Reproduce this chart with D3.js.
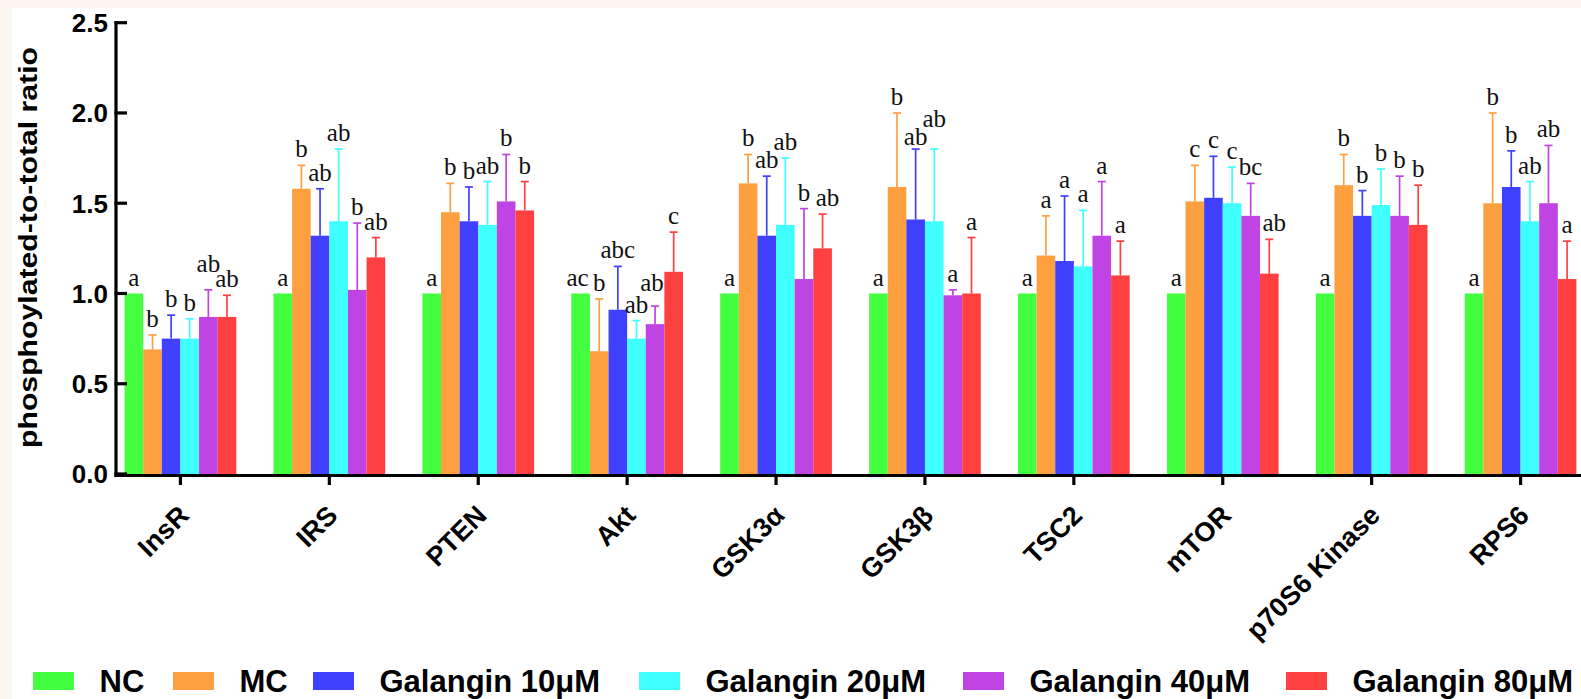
<!DOCTYPE html>
<html>
<head>
<meta charset="utf-8">
<script src="https://cdn.jsdelivr.net/npm/d3@7"></script>
<style>
  html, body { margin: 0; padding: 0; background: #fcf6f1; }
  svg { display: block; }
</style>
</head>
<body>
<svg id="chart" width="1581" height="699"></svg>
<script>
// Phosphorylation ratios per protein and treatment group
const categories = ["InsR", "IRS", "PTEN", "Akt", "GSK3α", "GSK3β", "TSC2", "mTOR", "p70S6 Kinase", "RPS6"];
const seriesNames = ["NC", "MC", "Galangin 10μM", "Galangin 20μM", "Galangin 40μM", "Galangin 80μM"];
const seriesColors = ["#44ff3f", "#ffa040", "#4040ff", "#40ffff", "#c044e4", "#ff4040"];

const valuesNC  = [1.00, 1.00, 1.00, 1.00, 1.00, 1.00, 1.00, 1.00, 1.00, 1.00];
const valuesMC  = [0.69, 1.58, 1.45, 0.68, 1.61, 1.59, 1.21, 1.51, 1.60, 1.50];
const valuesG10 = [0.75, 1.32, 1.40, 0.91, 1.32, 1.41, 1.18, 1.53, 1.43, 1.59];
const valuesG20 = [0.75, 1.40, 1.38, 0.75, 1.38, 1.40, 1.15, 1.50, 1.49, 1.40];
const valuesG40 = [0.87, 1.02, 1.51, 0.83, 1.08, 0.99, 1.32, 1.43, 1.43, 1.50];
const valuesG80 = [0.87, 1.20, 1.46, 1.12, 1.25, 1.00, 1.10, 1.11, 1.38, 1.08];

// upper error (SEM)
const errNC  = [0, 0, 0, 0, 0, 0, 0, 0, 0, 0];
const errMC  = [0.08, 0.13, 0.16, 0.29, 0.16, 0.41, 0.22, 0.20, 0.17, 0.50];
const errG10 = [0.13, 0.26, 0.19, 0.24, 0.33, 0.39, 0.36, 0.23, 0.14, 0.20];
const errG20 = [0.11, 0.40, 0.24, 0.10, 0.37, 0.40, 0.31, 0.20, 0.20, 0.22];
const errG40 = [0.15, 0.37, 0.26, 0.10, 0.39, 0.03, 0.30, 0.18, 0.22, 0.32];
const errG80 = [0.12, 0.11, 0.16, 0.22, 0.19, 0.31, 0.19, 0.19, 0.22, 0.21];

// significance letters
const lettersNC  = ["a", "a", "a", "ac", "a", "a", "a", "a", "a", "a"];
const lettersMC  = ["b", "b", "b", "b", "b", "b", "a", "c", "b", "b"];
const lettersG10 = ["b", "ab", "b", "abc", "ab", "ab", "a", "c", "b", "b"];
const lettersG20 = ["b", "ab", "ab", "ab", "ab", "ab", "a", "c", "b", "ab"];
const lettersG40 = ["ab", "b", "b", "ab", "b", "a", "a", "bc", "b", "ab"];
const lettersG80 = ["ab", "ab", "b", "c", "ab", "a", "a", "ab", "b", "a"];

const yTicks = [0.0, 0.5, 1.0, 1.5, 2.0, 2.5];

const allValues  = [valuesNC, valuesMC, valuesG10, valuesG20, valuesG40, valuesG80];
const allErr     = [errNC, errMC, errG10, errG20, errG40, errG80];
const allLetters = [lettersNC, lettersMC, lettersG10, lettersG20, lettersG40, lettersG80];

const rows = [];
categories.forEach((c, ci) => {
  seriesNames.forEach((s, si) => {
    rows.push({ cat: c, series: s, si, value: allValues[si][ci], err: allErr[si][ci], letter: allLetters[si][ci] });
  });
});

// small offsets so crowded letters don't collide
const letterNudge = {
  "InsR|Galangin 40μM": [0, -10],
  "Akt|NC": [-3, 0],
  "Akt|Galangin 40μM": [-3, -7],
  "GSK3α|Galangin 80μM": [5, 0],
  "GSK3β|Galangin 10μM": [0, 4],
  "GSK3β|Galangin 20μM": [0, -14],
  "mTOR|Galangin 80μM": [5, 0]
};
const nudge = d => letterNudge[d.cat + "|" + d.series] || [0, 0];

const svg = d3.select("#chart");
const SANS = "'Liberation Sans', Arial, Helvetica, sans-serif";
const SERIF = "'Liberation Serif', 'Times New Roman', serif";

// white panel
svg.append("rect").attr("x", 12).attr("y", 8).attr("width", 1581 - 12).attr("height", 699 - 8).attr("fill", "#ffffff");

const y = d3.scaleLinear().domain([0, 2.5]).range([474, 22.7]);
const x0 = d3.scaleBand().domain(categories).range([124.6, 1576.4]).paddingInner(0.25).paddingOuter(0);
const x1 = d3.scaleBand().domain(seriesNames).range([0, x0.bandwidth()]).padding(0);
const color = d3.scaleOrdinal().domain(seriesNames).range(seriesColors);
const cx = d => x0(d.cat) + x1(d.series) + x1.bandwidth() / 2;

const g = svg.append("g");

// bars
g.selectAll("rect.bar").data(rows).join("rect")
  .attr("class", "bar")
  .attr("x", d => x0(d.cat) + x1(d.series))
  .attr("width", x1.bandwidth())
  .attr("y", d => y(d.value))
  .attr("height", d => y(0) - y(d.value))
  .attr("fill", d => color(d.series));

// error bars (upper only)
const eb = g.selectAll("g.err").data(rows.filter(d => d.err > 0)).join("g").attr("class", "err")
  .attr("stroke", d => color(d.series)).attr("stroke-width", 1.7);
eb.append("line")
  .attr("x1", cx).attr("x2", cx)
  .attr("y1", d => y(d.value))
  .attr("y2", d => y(d.value + d.err));
eb.append("line")
  .attr("x1", d => cx(d) - 4)
  .attr("x2", d => cx(d) + 4)
  .attr("y1", d => y(d.value + d.err))
  .attr("y2", d => y(d.value + d.err));

// significance letters
g.selectAll("text.letter").data(rows).join("text")
  .attr("class", "letter")
  .attr("x", d => cx(d) + nudge(d)[0])
  .attr("y", d => y(d.value + d.err) - (d.err > 0 ? 8 : 7) + nudge(d)[1])
  .attr("text-anchor", "middle")
  .attr("font-family", SERIF)
  .attr("font-size", 25)
  .attr("fill", "#111")
  .text(d => d.letter);

// y axis
const yAxis = svg.append("g");
yAxis.append("line").attr("x1", 116).attr("x2", 116).attr("y1", y(2.5) - 1.5).attr("y2", y(0) + 3)
  .attr("stroke", "#000").attr("stroke-width", 3.2);
yAxis.selectAll("line.tick").data(yTicks).join("line").attr("class", "tick")
  .attr("x1", 114.5).attr("x2", 127).attr("y1", d => y(d)).attr("y2", d => y(d))
  .attr("stroke", "#000").attr("stroke-width", 3.2);
yAxis.selectAll("text").data(yTicks).join("text")
  .attr("x", 108).attr("y", d => y(d)).attr("dy", "0.36em")
  .attr("text-anchor", "end")
  .attr("font-family", SANS).attr("font-weight", "bold").attr("font-size", 26)
  .text(d => d3.format(".1f")(d));

svg.append("text")
  .attr("transform", "translate(37,247.5) rotate(-90)")
  .attr("text-anchor", "middle")
  .attr("font-family", SANS).attr("font-weight", "bold").attr("font-size", 25)
  .attr("textLength", 401).attr("lengthAdjust", "spacingAndGlyphs")
  .text("phosphoylated-to-total ratio");

// x axis
const xAxis = svg.append("g");
xAxis.append("line").attr("x1", 114.5).attr("x2", 1581).attr("y1", y(0) + 1.5).attr("y2", y(0) + 1.5)
  .attr("stroke", "#000").attr("stroke-width", 3.2);
xAxis.selectAll("line.tick").data(categories).join("line").attr("class", "tick")
  .attr("x1", d => x0(d) + x0.bandwidth() / 2).attr("x2", d => x0(d) + x0.bandwidth() / 2)
  .attr("y1", y(0) + 1.5).attr("y2", y(0) + 11)
  .attr("stroke", "#000").attr("stroke-width", 3.2);
xAxis.selectAll("text").data(categories).join("text")
  .attr("transform", d => `translate(${x0(d) + x0.bandwidth() / 2 + 10},517) rotate(-45)`)
  .attr("text-anchor", "end")
  .attr("font-family", SANS).attr("font-weight", "bold").attr("font-size", 27)
  .text(d => d);

// legend
const legendX = [33, 173, 313, 639, 963, 1286];
const legend = svg.append("g");
const items = legend.selectAll("g").data(seriesNames).join("g")
  .attr("transform", (d, i) => `translate(${legendX[i]},0)`);
items.append("rect").attr("x", 0).attr("y", 672).attr("width", 41).attr("height", 18)
  .attr("fill", d => color(d));
items.append("text").attr("x", 66.5).attr("y", 691.5)
  .attr("font-family", SANS).attr("font-weight", "bold").attr("font-size", 31)
  .text(d => d);
</script>
</body>
</html>
